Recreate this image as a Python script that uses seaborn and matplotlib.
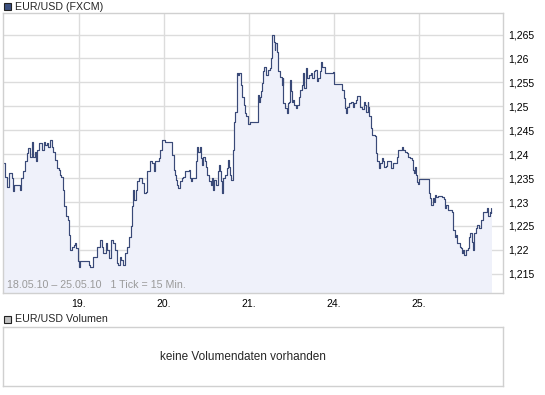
import numpy as np
import pandas as pd
import matplotlib
matplotlib.use("Agg")
import matplotlib.pyplot as plt
from matplotlib.patches import Rectangle
from matplotlib.ticker import FuncFormatter
import seaborn as sns

# 15-minute slot of the day (0..95) and EUR/USD close, one list pair per trading day
slots_1805 = [10, 12, 15, 17, 20, 21, 23, 27, 29, 31, 33, 35, 37, 39, 41, 43, 44, 46, 47, 49, 51, 54, 56, 58,
              60, 61, 63, 65, 67, 69, 71, 73, 75, 76, 78, 79, 81, 83, 84, 85, 86, 88, 90, 91, 93, 95]
close_1805 = [1.2382, 1.2353, 1.2332, 1.2361, 1.2351, 1.2324, 1.2336, 1.2336, 1.2325, 1.2351, 1.2364, 1.2385,
              1.2403, 1.2413, 1.2395, 1.2426, 1.2395, 1.2405, 1.2385, 1.2409, 1.2423, 1.2409, 1.2426, 1.2419,
              1.2423, 1.2416, 1.2430, 1.2416, 1.2405, 1.2388, 1.2371, 1.2367, 1.2357, 1.2353, 1.2325, 1.2291,
              1.2270, 1.2270, 1.2263, 1.2231, 1.2200, 1.2207, 1.2211, 1.2215, 1.2204, 1.2176]

slots_1905 = [0, 1, 9, 11, 12, 16, 20, 24, 26, 27, 31, 32, 34, 36, 39, 41, 43, 44, 46, 48, 50, 52, 54, 57,
              59, 60, 61, 62, 64, 66, 68, 71, 73, 76, 77, 80, 83, 85, 86, 90, 92, 94]
close_1905 = [1.2165, 1.2176, 1.2176, 1.2169, 1.2165, 1.2186, 1.2207, 1.2221, 1.2207, 1.2193, 1.2214, 1.2200,
              1.2183, 1.2221, 1.2214, 1.2200, 1.2172, 1.2169, 1.2186, 1.2179, 1.2169, 1.2193, 1.2207, 1.2228,
              1.2249, 1.2291, 1.2325, 1.2305, 1.2325, 1.2343, 1.2350, 1.2339, 1.2319, 1.2322, 1.2364, 1.2385,
              1.2381, 1.2364, 1.2385, 1.2392, 1.2409, 1.2430]

slots_2005 = [1, 8, 9, 11, 12, 14, 15, 16, 18, 20, 22, 24, 28, 29, 31, 32, 35, 36, 37, 39, 41, 42, 43, 44,
              46, 48, 49, 51, 53, 54, 55, 57, 59, 61, 62, 63, 65, 66, 67, 69, 71, 72, 74, 75, 76, 78, 79, 80,
              82, 83, 84, 85, 87, 88, 90, 92, 93, 95]
close_2005 = [1.2426, 1.2426, 1.2399, 1.2367, 1.2357, 1.2346, 1.2336, 1.2329, 1.2343, 1.2350, 1.2353, 1.2364,
              1.2367, 1.2350, 1.2343, 1.2350, 1.2350, 1.2385, 1.2416, 1.2405, 1.2416, 1.2392, 1.2378, 1.2395,
              1.2385, 1.2374, 1.2357, 1.2343, 1.2336, 1.2350, 1.2325, 1.2346, 1.2336, 1.2364, 1.2378, 1.2364,
              1.2343, 1.2319, 1.2350, 1.2357, 1.2371, 1.2388, 1.2374, 1.2357, 1.2346, 1.2409, 1.2468, 1.2489,
              1.2499, 1.2569, 1.2566, 1.2569, 1.2545, 1.2520, 1.2503, 1.2486, 1.2479, 1.2463]

slots_2105 = [1, 9, 10, 11, 12, 14, 15, 16, 17, 19, 21, 24, 25, 26, 28, 29, 30, 32, 33, 35, 37, 38, 39, 41,
              43, 44, 45, 46, 48, 49, 50, 51, 53, 54, 56, 58, 60, 61, 62, 64, 65, 66, 68, 70, 71, 73, 75, 77,
              78, 80, 81, 83, 84, 86, 95]
close_2105 = [1.2468, 1.2468, 1.2524, 1.2510, 1.2520, 1.2531, 1.2548, 1.2573, 1.2583, 1.2566, 1.2576, 1.2580,
              1.2600, 1.2649, 1.2635, 1.2618, 1.2632, 1.2614, 1.2573, 1.2562, 1.2545, 1.2559, 1.2507, 1.2496,
              1.2486, 1.2507, 1.2510, 1.2555, 1.2531, 1.2510, 1.2513, 1.2503, 1.2496, 1.2503, 1.2520, 1.2534,
              1.2545, 1.2569, 1.2538, 1.2559, 1.2580, 1.2559, 1.2566, 1.2569, 1.2559, 1.2573, 1.2576, 1.2552,
              1.2559, 1.2573, 1.2592, 1.2583, 1.2583, 1.2569, 1.2571]

slots_2405 = [0, 8, 9, 11, 12, 14, 15, 17, 19, 21, 23, 25, 26, 29, 30, 32, 34, 35, 36, 38, 39, 40, 42, 43,
              46, 47, 48, 49, 51, 52, 54, 55, 57, 59, 60, 63, 64, 66, 67, 69, 71, 72, 75, 77, 78, 80, 82, 84,
              86, 88, 89, 90, 92, 93, 94, 95]
close_2405 = [1.2546, 1.2546, 1.2534, 1.2517, 1.2496, 1.2486, 1.2499, 1.2507, 1.2510, 1.2499, 1.2507, 1.2513,
              1.2522, 1.2507, 1.2499, 1.2494, 1.2510, 1.2503, 1.2489, 1.2510, 1.2499, 1.2479, 1.2454, 1.2440,
              1.2437, 1.2416, 1.2402, 1.2385, 1.2371, 1.2382, 1.2392, 1.2385, 1.2374, 1.2376, 1.2385, 1.2385,
              1.2371, 1.2371, 1.2381, 1.2382, 1.2395, 1.2408, 1.2409, 1.2415, 1.2409, 1.2405, 1.2402, 1.2395,
              1.2392, 1.2388, 1.2367, 1.2360, 1.2373, 1.2357, 1.2341, 1.2338]

slots_2505 = [0, 9, 11, 13, 14, 16, 17, 18, 19, 22, 26, 28, 29, 31, 33, 35, 37, 38, 39, 41, 42, 43, 46, 47,
              49, 50, 51, 53, 55, 57, 58, 60, 61, 62, 64, 66, 68, 70, 72, 75, 77, 78, 80, 81, 82]
close_2505 = [1.2348, 1.2348, 1.2319, 1.2308, 1.2294, 1.2308, 1.2301, 1.2315, 1.2311, 1.2313, 1.2311, 1.2306,
              1.2287, 1.2294, 1.2284, 1.2284, 1.2280, 1.2263, 1.2242, 1.2228, 1.2231, 1.2214, 1.2207, 1.2204,
              1.2193, 1.2200, 1.2190, 1.2200, 1.2204, 1.2228, 1.2235, 1.2217, 1.2200, 1.2235, 1.2245, 1.2252,
              1.2245, 1.2263, 1.2280, 1.2280, 1.2287, 1.2270, 1.2280, 1.2277, 1.2287]

day_labels = ["18.", "19.", "20.", "21.", "24.", "25."]
y_ticks = [1.215, 1.22, 1.225, 1.23, 1.235, 1.24, 1.245, 1.25, 1.255, 1.26, 1.265]

LINE = "#3a4a78"
FILL = "#eff1fa"
GRID = "#dcdcdc"

all_slots = [slots_1805, slots_1905, slots_2005, slots_2105, slots_2405, slots_2505]
all_close = [close_1805, close_1905, close_2005, close_2105, close_2405, close_2505]
frames = []
for i, (s, c) in enumerate(zip(all_slots, all_close)):
    frames.append(pd.DataFrame({"tick": np.array(s) + i * 96, "close": c}))
df = pd.concat(frames, ignore_index=True)

sns.set_style("white")
plt.rcParams["font.family"] = ["Liberation Sans", "DejaVu Sans"]

W, H = 545, 395
fig = plt.figure(figsize=(W / 100, H / 100), dpi=100)

ax = fig.add_axes([3 / W, 1 - 293 / H, 500 / W, 280 / H])
ax.fill_between(df["tick"], df["close"], 1.2, step="post", color=FILL, lw=0)
sns.lineplot(data=df, x="tick", y="close", ax=ax, color=LINE, lw=0.85,
             drawstyle="steps-post", estimator=None, sort=False)
ax.set_xlim(10.2, 575)
ax.set_ylim(1.2110, 1.2695)
ax.set_xticks([96 * i for i in range(1, 6)])
ax.set_xticklabels(day_labels[1:])
ax.set_yticks(y_ticks)
ax.yaxis.set_major_formatter(FuncFormatter(lambda v, p: f"{v:.3f}".rstrip("0").replace(".", ",")))
ax.yaxis.tick_right()
ax.tick_params(length=0, labelsize=7.5, colors="black", pad=4)
ax.tick_params(axis="x", pad=4)
ax.grid(True, color=GRID, lw=1)
ax.set_axisbelow(True)
ax.set_xlabel("")
ax.set_ylabel("")
for sp in ax.spines.values():
    sp.set_color("#d0d0d0")
    sp.set_linewidth(1)
ax.text(0.008, 0.012, "18.05.10 – 25.05.10   1 Tick = 15 Min.", transform=ax.transAxes,
        fontsize=7.7, color="#9a9a9a", va="bottom", ha="left")

vax = fig.add_axes([3 / W, 1 - 386 / H, 500 / W, 59 / H])
vax.set_xticks([])
vax.set_yticks([])
for sp in vax.spines.values():
    sp.set_color("#d0d0d0")
    sp.set_linewidth(1)
vax.text(0.48, 0.5, "keine Volumendaten vorhanden", transform=vax.transAxes,
         ha="center", va="center", fontsize=8.5)

# legend-style headers
fig.add_artist(Rectangle((4 / W, 1 - 10 / H), 7 / W, 7 / H, transform=fig.transFigure,
                         facecolor="#3c5080", edgecolor="#222222", lw=0.8))
fig.text(15 / W, 1 - 6.5 / H, "EUR/USD (FXCM)", fontsize=7.7, va="center", ha="left")
fig.add_artist(Rectangle((4 / W, 1 - 323 / H), 7 / W, 7 / H, transform=fig.transFigure,
                         facecolor="#c0c0c0", edgecolor="#222222", lw=0.8))
fig.text(15 / W, 1 - 319.5 / H, "EUR/USD Volumen", fontsize=7.7, va="center", ha="left")

fig.savefig("out.png", dpi=100)
